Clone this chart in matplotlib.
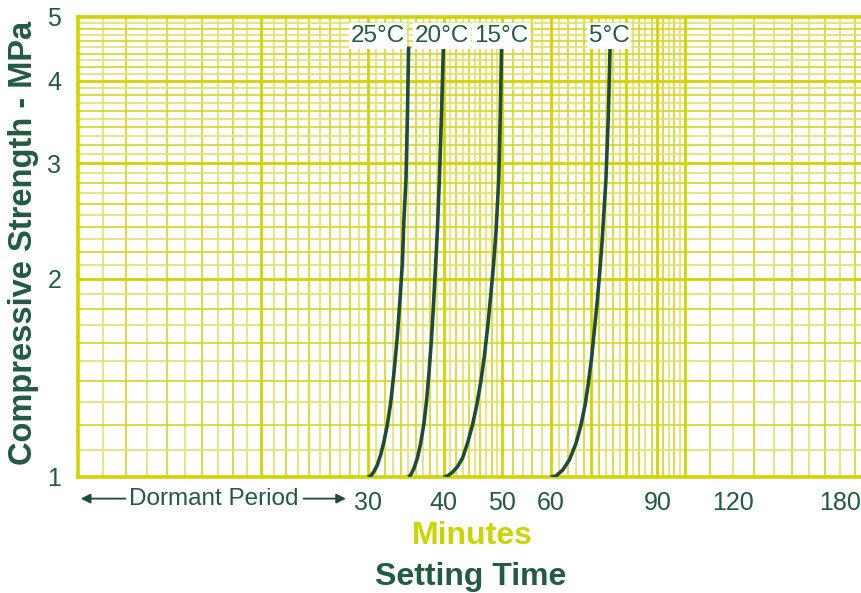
import numpy as np
import matplotlib
matplotlib.use("Agg")
import matplotlib.pyplot as plt

plt.rcParams['font.family'] = ['Liberation Sans', 'DejaVu Sans']

# ---- data (minutes, MPa) ----
t25 = [30.0, 30.33, 30.71, 31.11, 31.50, 31.90, 32.31, 32.72, 33.13, 33.56, 33.90,
       34.21, 34.41, 34.68, 34.88, 35.03]
s25 = [1.0, 1.0035, 1.0187, 1.0429, 1.0800, 1.1315, 1.1996, 1.2941, 1.4373, 1.6340,
       1.8578, 2.1121, 2.4582, 2.8281, 3.5733, 4.5077]
t20 = [35.0, 35.30, 35.75, 36.21, 36.67, 37.13, 37.51, 37.84, 38.19, 38.48, 38.77,
       39.07, 39.36, 39.69, 39.97]
s20 = [1.0, 1.0070, 1.0309, 1.0676, 1.1252, 1.2067, 1.3092, 1.4373, 1.6152, 1.8147,
       2.0632, 2.3737, 2.8281, 3.5733, 4.5077]
t15 = [40.0, 40.58, 41.36, 42.16, 42.96, 43.79, 44.63, 45.36, 46.06, 46.64, 47.25,
       47.84, 48.33, 48.81, 49.30, 49.60, 49.83]
s15 = [1.0, 1.0035, 1.0166, 1.0367, 1.0676, 1.1252, 1.1996, 1.2864, 1.3956, 1.5149,
       1.6827, 1.8909, 2.0996, 2.3737, 2.8281, 3.5733, 4.5077]
t05 = [60.0, 61.25, 62.83, 64.43, 66.09, 67.35, 68.39, 69.25, 70.15, 70.85, 71.58,
       72.20, 72.86, 73.45, 74.02, 74.72, 75.20]
s05 = [1.0, 1.0035, 1.0248, 1.0613, 1.1252, 1.1996, 1.2864, 1.3878, 1.5234, 1.6727,
       1.8364, 2.0155, 2.2387, 2.5162, 2.8281, 3.5733, 4.5077]
labels = ["25°C", "20°C", "15°C", "5°C"]
series = [(t25, s25), (t20, s20), (t15, s15), (t05, s05)]

xticks = [30, 40, 50, 60, 90, 120, 180]
xticklabels = ["30", "40", "50", "60", "90", "120", "180"]
yticks = [1, 2, 3, 4, 5]
yticklabels = ["1", "2", "3", "4", "5"]

# label anchor positions (layout)
label_x = [31.2, 39.8, 49.7, 75.0]
label_y = 4.68

DARK = '#215B40'
CURVE = '#1F4B37'
YEL = '#D2D400'
YEL_MID = '#D6D625'
YEL_LIGHT = '#E2E270'
MIN_YEL = '#CCD400'

fig = plt.figure(figsize=(8.61, 5.93), dpi=100)
ax = fig.add_axes([78/861, 1-477/593, 1-78/861 + 0.002, (477-17)/593])
ax.set_xscale('log')
ax.set_yscale('log')
ax.set_xlim(10, 196)
ax.set_ylim(1, 5)

# ---- graph-paper grid ----
vmin = list(np.arange(11, 50, 1)) + list(np.arange(52, 100, 2)) + list(np.arange(110, 200, 10))
for i, v in enumerate(vmin):
    if v % 10 == 0 and v <= 100:
        continue
    col = YEL_LIGHT if i % 2 == 0 else YEL_MID
    ax.axvline(v, color=col, lw=1.2, zorder=1)
for v in [20, 30, 40, 50, 60, 70, 80, 90, 100]:
    ax.axvline(v, color=YEL, lw=2.0, zorder=1.5)

hmin = [round(v, 1) for v in np.arange(1.1, 5.0, 0.1)]
for i, v in enumerate(hmin):
    if abs(v - round(v)) < 1e-6:
        continue
    col = YEL_LIGHT if i % 2 == 0 else YEL_MID
    ax.axhline(v, color=col, lw=1.2, zorder=1)
for v in [2, 3, 4]:
    ax.axhline(v, color=YEL, lw=2.0, zorder=1.5)

for s in ['left', 'bottom', 'top']:
    ax.spines[s].set_color(YEL)
    ax.spines[s].set_linewidth(2.6)
    ax.spines[s].set_zorder(3)
ax.spines['right'].set_visible(False)

# ---- curves ----
for (t, s), lab, lx in zip(series, labels, label_x):
    ax.plot(t, s, color=CURVE, lw=2.6, zorder=4, solid_capstyle='butt',
            solid_joinstyle='round')
    ax.text(lx, label_y, lab, ha='center', va='center', fontsize=17.5, color=DARK,
            zorder=5, bbox=dict(facecolor='white', edgecolor='none', pad=1.2))

# ---- ticks ----
ax.xaxis.set_minor_locator(matplotlib.ticker.NullLocator())
ax.yaxis.set_minor_locator(matplotlib.ticker.NullLocator())
ax.set_xticks(xticks)
ax.set_xticklabels(xticklabels)
ax.set_yticks(yticks)
ax.set_yticklabels(yticklabels)
ax.tick_params(axis='both', length=0, labelsize=18, labelcolor=DARK)
ax.tick_params(axis='x', pad=10)
ax.tick_params(axis='y', pad=12)

# ---- dormant period annotation ----
yy = -0.047
ax.annotate('', xy=(0.0, yy), xytext=(0.064, yy), xycoords='axes fraction',
            arrowprops=dict(arrowstyle='-|>', color=CURVE, lw=1.3, mutation_scale=14))
ax.annotate('', xy=(0.345, yy), xytext=(0.284, yy), xycoords='axes fraction',
            arrowprops=dict(arrowstyle='-|>', color=CURVE, lw=1.3, mutation_scale=14))
ax.text(0.1735, yy, 'Dormant Period', transform=ax.transAxes, ha='center', va='center',
        fontsize=17.5, color=DARK)

# ---- labels ----
fig.text(472/861, 1-536/593, 'Minutes', ha='center', va='center', fontsize=23,
         fontweight='bold', color=MIN_YEL)
fig.text(471/861, 1-577/593, 'Setting Time', ha='center', va='center', fontsize=23,
         fontweight='bold', color=DARK)
fig.text(24/861, 1-243/593, 'Compressive Strength - MPa', ha='center', va='center',
         rotation=90, fontsize=23.5, fontweight='bold', color=DARK)

fig.savefig('out.png', dpi=100)
